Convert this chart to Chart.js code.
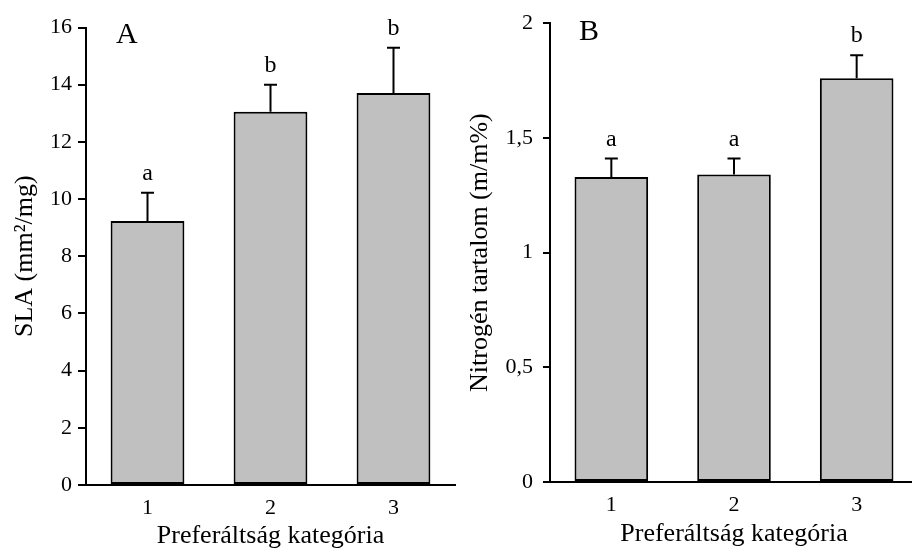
<!DOCTYPE html>
<html>
<head>
<meta charset="utf-8">
<script src="https://cdn.jsdelivr.net/npm/chart.js@4"></script>
<style>
  html, body { margin: 0; padding: 0; background: #fff; overflow: hidden; width: 912px; height: 552px; }
  #panelA { position: absolute; left: 0; top: 0; }
  #panelB { position: absolute; left: 456px; top: 0; }
</style>
</head>
<body>
<canvas id="panelA" width="456" height="552"></canvas>
<canvas id="panelB" width="464" height="552"></canvas>
<script>
// Preference categories on the x axis
const categories = ['1', '2', '3'];

// Panel A: specific leaf area (mean, upper error) and significance letters
const slaMeans = [9.23, 13.05, 13.71];
const slaErrors = [0.99, 0.95, 1.58];
const slaLetters = ['a', 'b', 'b'];
const slaTicks = ['0', '2', '4', '6', '8', '10', '12', '14', '16'];

// Panel B: leaf nitrogen content (mean, upper error) and significance letters
const nitrogenMeans = [1.33, 1.34, 1.76];
const nitrogenErrors = [0.08, 0.07, 0.10];
const nitrogenLetters = ['a', 'a', 'b'];
const nitrogenTicks = ['0', '0,5', '1', '1,5', '2'];

const SERIF = '"Liberation Serif", "Times New Roman", serif';

// Draws the upper error whiskers, the letters above them and the panel tag
function errorBarPlugin(means, errors, letters, panel, tagDx, tagDy) {
  return {
    id: 'errorBars' + panel,
    afterDatasetsDraw(chart) {
      const ctx = chart.ctx;
      const y = chart.scales.y;
      const meta = chart.getDatasetMeta(0);
      ctx.save();
      ctx.strokeStyle = '#000';
      ctx.fillStyle = '#000';
      ctx.lineWidth = 2;
      meta.data.forEach((bar, i) => {
        const yTop = y.getPixelForValue(means[i]);
        const yErr = y.getPixelForValue(means[i] + errors[i]);
        ctx.beginPath();
        ctx.moveTo(bar.x, yTop);
        ctx.lineTo(bar.x, yErr);
        ctx.moveTo(bar.x - 6.5, yErr);
        ctx.lineTo(bar.x + 6.5, yErr);
        ctx.stroke();
        ctx.font = '24px ' + SERIF;
        ctx.textAlign = 'center';
        ctx.textBaseline = 'alphabetic';
        ctx.fillText(letters[i], bar.x, yErr - 13);
      });
      ctx.font = '30px ' + SERIF;
      ctx.textAlign = 'left';
      ctx.textBaseline = 'alphabetic';
      ctx.fillText(panel, chart.chartArea.left + tagDx, chart.chartArea.top + tagDy);
      ctx.restore();
    }
  };
}

function makeChart(id, means, errors, letters, tickLabels, yMax, yStep, yTitle, opts) {
  return new Chart(document.getElementById(id), {
    type: 'bar',
    data: {
      labels: categories,
      datasets: [{
        data: means,
        backgroundColor: '#c0c0c0',
        borderColor: '#000',
        borderWidth: 2,
        borderSkipped: false,
        barPercentage: 0.6,
        categoryPercentage: 1.0
      }]
    },
    options: {
      responsive: false,
      animation: false,
      layout: { padding: { top: opts.top, right: opts.right, left: 0, bottom: 0 } },
      plugins: { legend: { display: false }, tooltip: { enabled: false } },
      scales: {
        x: {
          afterFit(scale) { scale.height = opts.xHeight; },
          grid: { display: false },
          border: { display: true, color: '#000', width: 2 },
          ticks: { color: '#000', padding: 2, font: { family: SERIF, size: 22 } },
          title: {
            display: true,
            text: 'Preferáltság kategória',
            color: '#000',
            font: { family: SERIF, size: 26 },
            padding: { top: 0, bottom: opts.xTitlePad }
          }
        },
        y: {
          min: 0,
          max: yMax,
          afterFit(scale) { scale.width = opts.yWidth; },
          grid: {
            display: true,
            drawOnChartArea: false,
            drawTicks: true,
            tickLength: opts.tickLength,
            color: '#000',
            lineWidth: 2
          },
          border: { display: true, color: '#000', width: 2 },
          ticks: {
            stepSize: yStep,
            color: '#000',
            padding: opts.tickPad,
            font: { family: SERIF, size: 22 },
            callback: (value, index) => tickLabels[index]
          },
          title: {
            display: true,
            text: yTitle,
            color: '#000',
            font: { family: SERIF, size: 26 },
            padding: { top: opts.yTitlePad, bottom: 0 }
          }
        }
      }
    },
    plugins: [errorBarPlugin(means, errors, letters, opts.tag, opts.tagDx, opts.tagDy)]
  });
}

makeChart('panelA', slaMeans, slaErrors, slaLetters, slaTicks, 16, 2, 'SLA (mm²/mg)', {
  top: 27.5, right: 1, xHeight: 67, xTitlePad: 0, yWidth: 86, tickLength: 8, tickPad: 6,
  yTitlePad: 10, tag: 'A', tagDx: 30, tagDy: 15
});

makeChart('panelB', nitrogenMeans, nitrogenErrors, nitrogenLetters, nitrogenTicks, 2, 0.5, 'Nitrogén tartalom (m/m%)', {
  top: 15, right: 2, xHeight: 70, xTitlePad: 2, yWidth: 94, tickLength: 7, tickPad: 10,
  yTitlePad: 9, tag: 'B', tagDx: 29, tagDy: 17
});
</script>
</body>
</html>
